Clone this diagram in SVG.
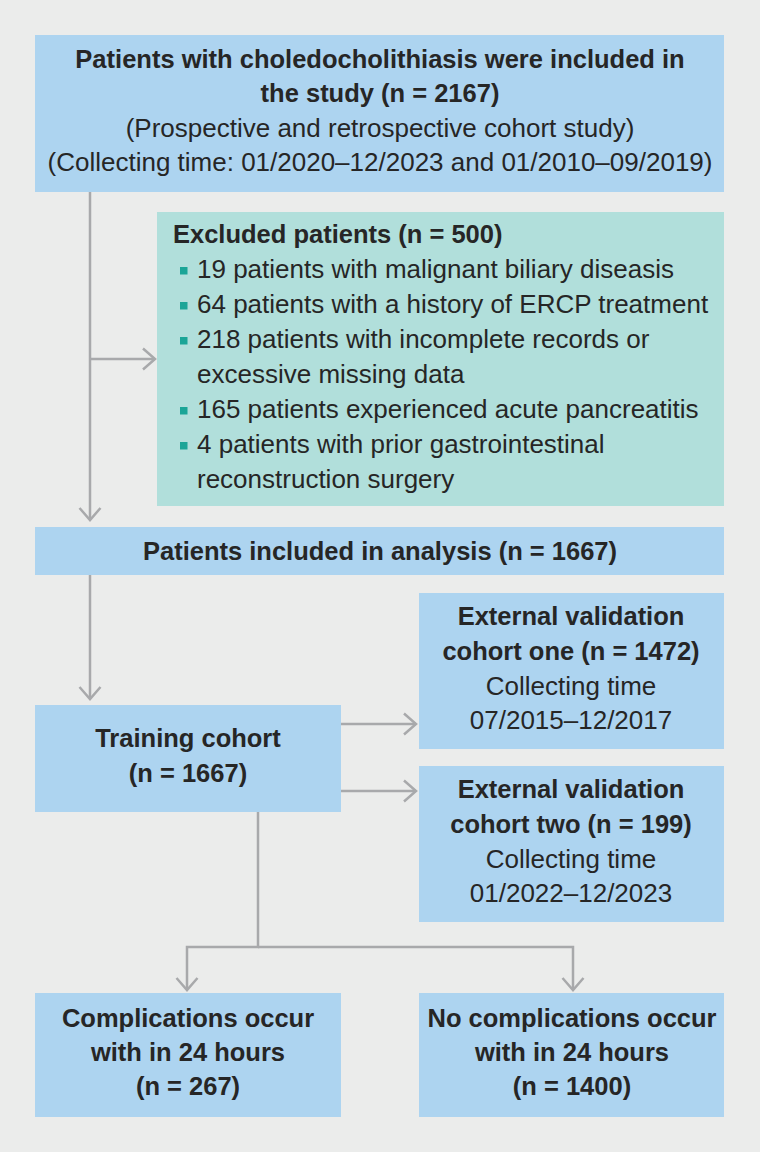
<svg xmlns="http://www.w3.org/2000/svg" width="760" height="1152" viewBox="0 0 760 1152">
<defs>
<style>
.bg{fill:#ebeceb}
.box{fill:#add4f0}
.teal{fill:#b1dfdb}
.t{font-family:"Liberation Sans",Arial,sans-serif;font-size:26px;fill:#262626}
.b{font-family:"Liberation Sans",Arial,sans-serif;font-size:25.5px;font-weight:bold;fill:#262626}
.c{text-anchor:middle}
.bul{fill:#1ba597}
.ln{fill:none;stroke:#a8a9ab;stroke-width:2.5}
</style>
<marker id="ah" markerUnits="userSpaceOnUse" viewBox="0 0 16 24" markerWidth="16" markerHeight="24" refX="14" refY="12" orient="auto">
<path d="M2,1.5 L14,12 L2,22.5" fill="none" stroke="#a8a9ab" stroke-width="2.5"/>
</marker>
</defs>
<rect class="bg" x="0" y="0" width="760" height="1152"/>

<g id="connectors">
<path class="ln" d="M90,192 V520" marker-end="url(#ah)"/>
<path class="ln" d="M90,359 H155" marker-end="url(#ah)"/>
<path class="ln" d="M90,575 V699" marker-end="url(#ah)"/>
<path class="ln" d="M341,724 H416" marker-end="url(#ah)"/>
<path class="ln" d="M341,791 H416" marker-end="url(#ah)"/>
<path class="ln" d="M258,812 V947 H187 V990" marker-end="url(#ah)"/>
<path class="ln" d="M258,947 H573 V990" marker-end="url(#ah)"/>
</g>

<g id="node-included">
<rect class="box" x="35" y="35" width="689" height="157"/>
<text class="b c" x="380" y="68">Patients with choledocholithiasis were included in</text>
<text class="b c" x="380" y="102">the study (n = 2167)</text>
<text class="t c" x="380" y="137">(Prospective and retrospective cohort study)</text>
<text class="t c" x="380" y="171">(Collecting time: 01/2020–12/2023 and 01/2010–09/2019)</text>
</g>

<g id="node-excluded">
<rect class="teal" x="157" y="212" width="567" height="294"/>
<text class="b" x="173" y="243">Excluded patients (n = 500)</text>
<rect class="bul" x="180" y="267" width="7.5" height="7.5"/>
<text class="t" x="197" y="278">19 patients with malignant biliary diseasis</text>
<rect class="bul" x="180" y="302" width="7.5" height="7.5"/>
<text class="t" x="197" y="313">64 patients with a history of ERCP treatment</text>
<rect class="bul" x="180" y="337" width="7.5" height="7.5"/>
<text class="t" x="197" y="348">218 patients with incomplete records or</text>
<text class="t" x="197" y="383">excessive missing data</text>
<rect class="bul" x="180" y="407" width="7.5" height="7.5"/>
<text class="t" x="197" y="418">165 patients experienced acute pancreatitis</text>
<rect class="bul" x="180" y="442" width="7.5" height="7.5"/>
<text class="t" x="197" y="453">4 patients with prior gastrointestinal</text>
<text class="t" x="197" y="488">reconstruction surgery</text>
</g>

<g id="node-analysis">
<rect class="box" x="35" y="527" width="689" height="48"/>
<text class="b c" x="380" y="560">Patients included in analysis (n = 1667)</text>
</g>

<g id="node-training">
<rect class="box" x="35" y="705" width="306" height="107"/>
<text class="b c" x="188" y="747">Training cohort</text>
<text class="b c" x="188" y="782">(n = 1667)</text>
</g>

<g id="node-ext1">
<rect class="box" x="419" y="593" width="305" height="156"/>
<text class="b c" x="571" y="625">External validation</text>
<text class="b c" x="571" y="660">cohort one (n = 1472)</text>
<text class="t c" x="571" y="695">Collecting time</text>
<text class="t c" x="571" y="729">07/2015–12/2017</text>
</g>

<g id="node-ext2">
<rect class="box" x="419" y="766" width="305" height="156"/>
<text class="b c" x="571" y="798">External validation</text>
<text class="b c" x="571" y="833">cohort two (n = 199)</text>
<text class="t c" x="571" y="868">Collecting time</text>
<text class="t c" x="571" y="902">01/2022–12/2023</text>
</g>

<g id="node-complications">
<rect class="box" x="35" y="993" width="306" height="124"/>
<text class="b c" x="188" y="1027">Complications occur</text>
<text class="b c" x="188" y="1061">with in 24 hours</text>
<text class="b c" x="188" y="1095">(n = 267)</text>
</g>

<g id="node-nocomplications">
<rect class="box" x="419" y="993" width="305" height="124"/>
<text class="b c" x="572" y="1027">No complications occur</text>
<text class="b c" x="572" y="1061">with in 24 hours</text>
<text class="b c" x="572" y="1095">(n = 1400)</text>
</g>
</svg>
